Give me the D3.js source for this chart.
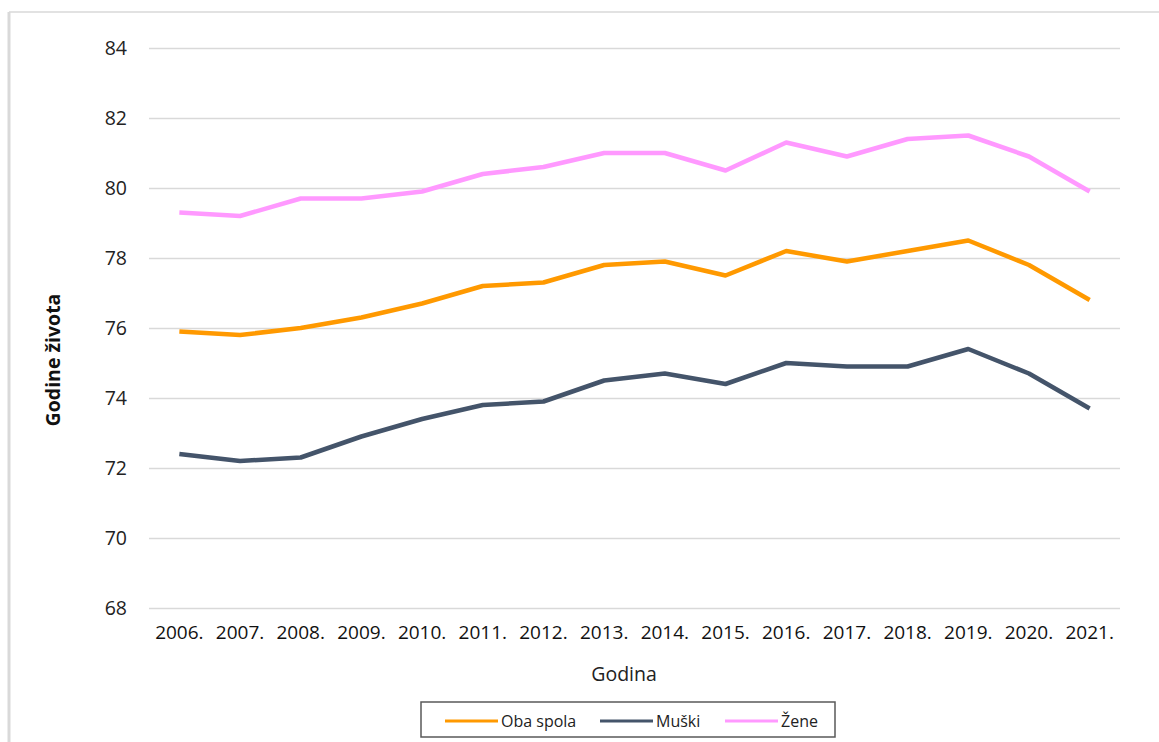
<!DOCTYPE html>
<html>
<head>
<meta charset="utf-8">
<script src="https://cdn.jsdelivr.net/npm/d3@7"></script>
<style>
body{margin:0;background:#fff;}
svg{display:block;font-family:"Open Sans",sans-serif;}
</style>
</head>
<body>
<div id="chart"></div>
<script>
// data
var years = ["2006.","2007.","2008.","2009.","2010.","2011.","2012.","2013.","2014.","2015.","2016.","2017.","2018.","2019.","2020.","2021."];
var obaSpola = [75.9,75.8,76.0,76.3,76.7,77.2,77.3,77.8,77.9,77.5,78.2,77.9,78.2,78.5,77.8,76.8];
var muski = [72.4,72.2,72.3,72.9,73.4,73.8,73.9,74.5,74.7,74.4,75.0,74.9,74.9,75.4,74.7,73.7];
var zene = [79.3,79.2,79.7,79.7,79.9,80.4,80.6,81.0,81.0,80.5,81.3,80.9,81.4,81.5,80.9,79.9];
var yTicks = [68,70,72,74,76,78,80,82,84];

var series = [
  {name:"Oba spola", values:obaSpola, color:"#ff9900"},
  {name:"Muški", values:muski, color:"#44546a"},
  {name:"Žene", values:zene, color:"#ff99ff"}
];

var W = 1159, H = 742;
var margin = {top:48, right:39, bottom:134, left:149},
w = W - margin.left - margin.right,
h = H - margin.top - margin.bottom;

var root = d3.select("#chart").append("svg")
  .attr("width",W).attr("height",H);

// outer frame (top + left edges visible)
root.append("line").attr("x1",9).attr("x2",W).attr("y1",12).attr("y2",12)
  .attr("stroke","#d9d9d9").attr("stroke-width",1.5);
root.append("line").attr("x1",9).attr("x2",9).attr("y1",12).attr("y2",H)
  .attr("stroke","#d9d9d9").attr("stroke-width",3);

var svg = root.append("g")
  .attr("transform",`translate(${margin.left},${margin.top})`);

var xScale = d3.scaleBand().domain(years).range([0,w]);
var yScale = d3.scaleLinear().domain([68,84]).range([h,0]);

// gridlines
svg.append("g")
  .call(d3.axisLeft(yScale).tickValues(yTicks).tickSize(-w).tickFormat(""))
  .call(g=>g.select(".domain").remove())
  .selectAll("line").attr("stroke","#d9d9d9").attr("stroke-width",1.5);

// y labels
svg.append("g")
  .call(d3.axisLeft(yScale).tickValues(yTicks).tickSize(0).tickPadding(22))
  .call(g=>g.select(".domain").remove())
  .selectAll("text")
  .style("font-family","'Open Sans',sans-serif")
  .style("font-size","19.5px").attr("fill","#222");

// x labels
svg.append("g")
  .attr("transform","translate(0,"+h+")")
  .call(d3.axisBottom(xScale).tickSize(0).tickPadding(18))
  .call(g=>g.select(".domain").remove())
  .selectAll("text")
  .style("font-family","'Open Sans',sans-serif")
  .style("font-size","19px").attr("fill","#111");

var line = d3.line()
  .x(function(d,i){return xScale(years[i])+xScale.bandwidth()/2;})
  .y(function(d){return yScale(d);});

svg.selectAll(".series")
  .data(series).enter()
  .append("path")
  .attr("fill","none")
  .attr("stroke",function(d){return d.color;})
  .attr("stroke-width",4.5)
  .attr("stroke-linejoin","round")
  .attr("d",function(d){return line(d.values);});

// axis titles
root.append("text")
  .attr("x",624).attr("y",681)
  .attr("text-anchor","middle")
  .style("font-size","19.5px").attr("fill","#222")
  .text("Godina");

root.append("text")
  .attr("transform","translate(60,360)rotate(-90)")
  .attr("text-anchor","middle")
  .style("font-size","19.5px").style("font-weight","bold").attr("fill","#111")
  .text("Godine života");

// legend
var lg = root.append("g");
lg.append("rect").attr("x",421).attr("y",702).attr("width",414).attr("height",35)
  .attr("fill","#fff").attr("stroke","#595959").attr("stroke-width",1.5);
var legX = [445,600,725];
series.forEach(function(s,i){
  lg.append("line").attr("x1",legX[i]).attr("x2",legX[i]+53)
    .attr("y1",721).attr("y2",721)
    .attr("stroke",s.color).attr("stroke-width",3);
  lg.append("text").attr("x",legX[i]+56).attr("y",726.5)
    .style("font-size","16px").attr("fill","#222")
    .text(s.name);
});
</script>
</body>
</html>
